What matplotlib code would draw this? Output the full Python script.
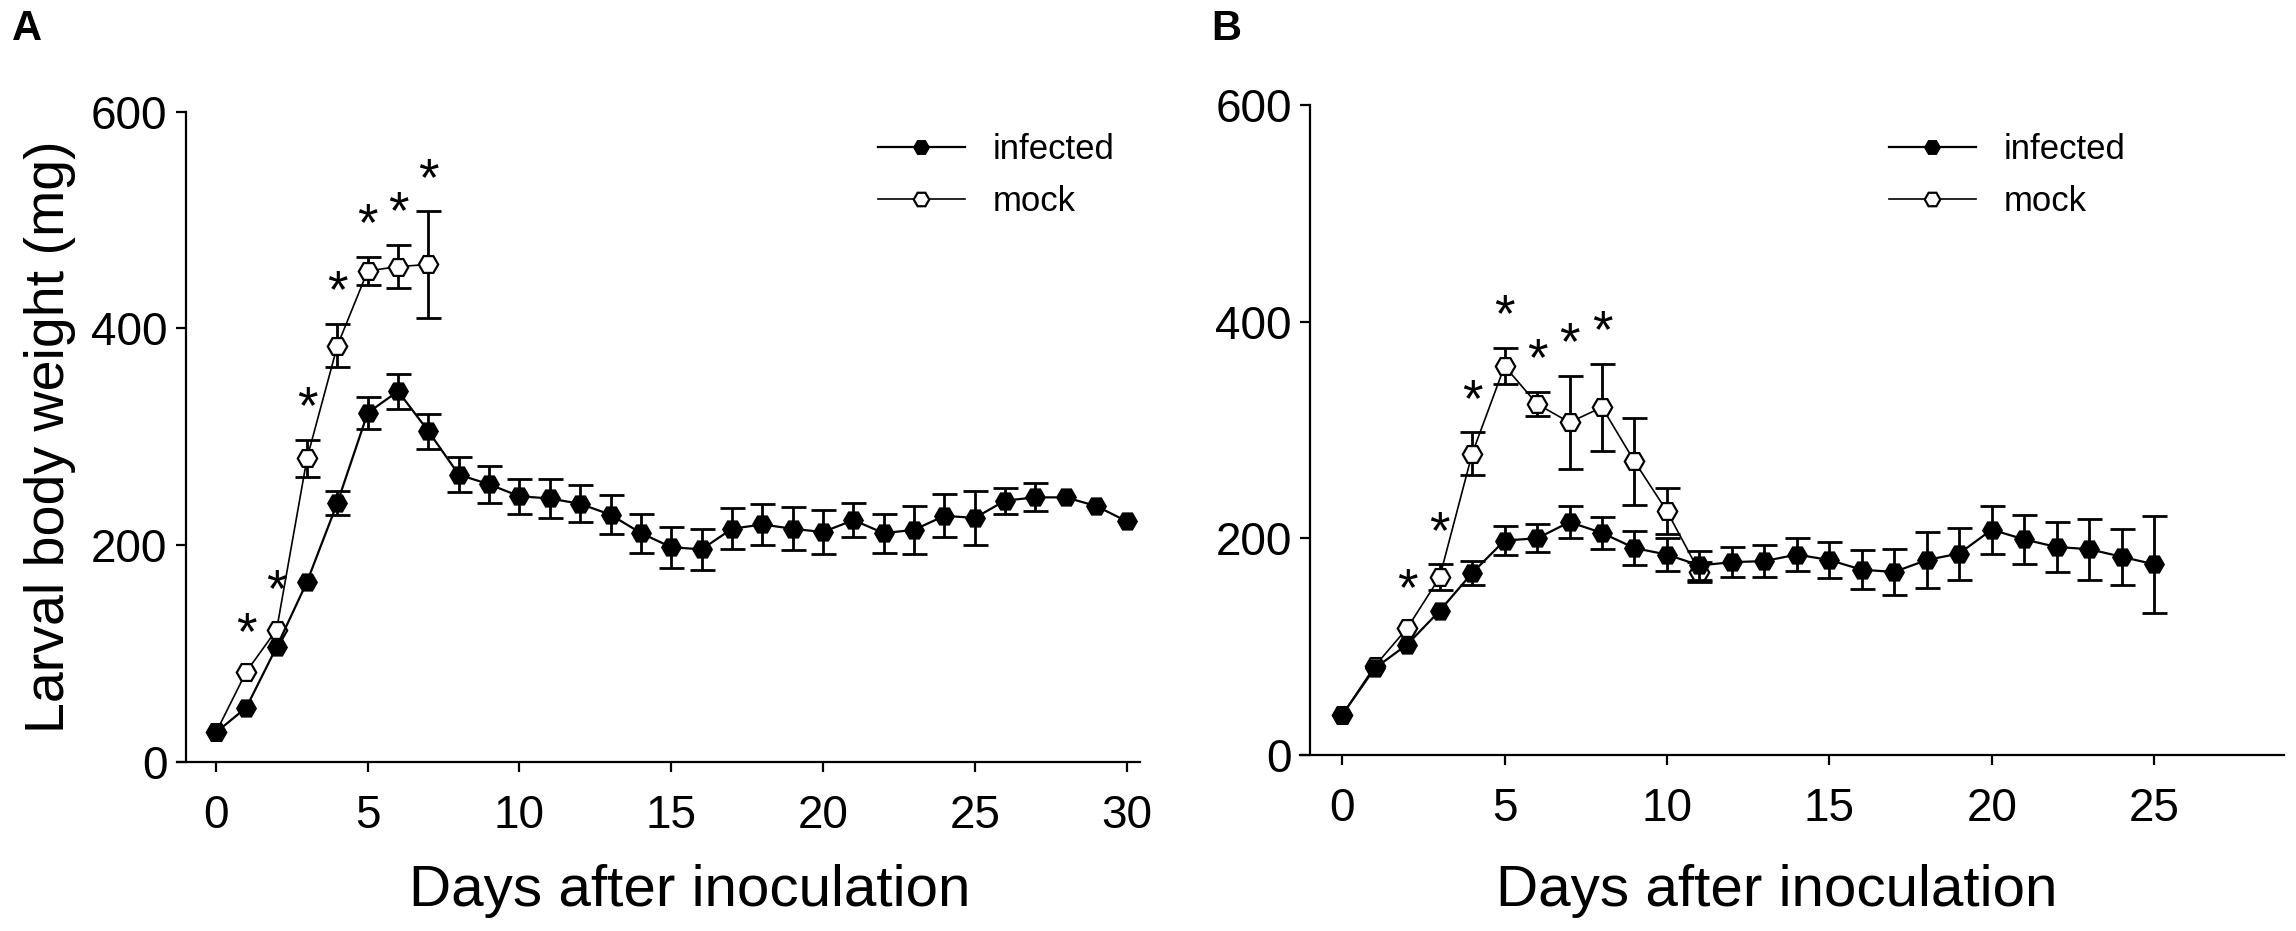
import matplotlib
matplotlib.use("Agg")
import matplotlib.pyplot as plt

plt.rcParams['font.family'] = ['Liberation Sans Narrow', 'Liberation Sans', 'DejaVu Sans']

# panel A  (error 0 = bar hidden behind the marker in the original)
days_a = list(range(0, 31))
inf_a = [27, 50, 106, 166, 239, 322, 342, 305, 265, 256, 245, 243, 238, 228, 211, 198,
         196, 215, 219, 215, 212, 223, 211, 214, 227, 225, 241, 244, 244, 236, 222]
inf_a_err = [0, 0, 0, 0, 11, 15, 16, 16, 16, 17, 16, 18, 17, 18, 18, 19,
             19, 19, 19, 20, 20, 16, 18, 22, 20, 25, 12, 13, 0, 0, 0]
mock_days_a = list(range(0, 8))
mock_a = [27, 83, 122, 280, 384, 453, 457, 459]
mock_a_err = [0, 0, 0, 17, 20, 13, 20, 49]
sig_a = [1, 2, 3, 4, 5, 6, 7]

# panel B
days_b = list(range(0, 26))
inf_b = [37, 80, 102, 133, 168, 198, 200, 215, 205, 191, 185, 175, 178, 179, 185, 180,
         171, 169, 180, 186, 208, 199, 192, 190, 183, 176]
inf_b_err = [0, 0, 0, 0, 11, 13.5, 13, 14.5, 15, 15.5, 15.5, 13, 14, 14.5, 15, 17,
             18, 21, 26, 24, 22, 23, 23, 28, 26, 45]
mock_days_b = list(range(0, 12))
mock_b = [37, 82, 117, 164, 278, 359, 324, 307, 321, 271, 225, 169]
mock_b_err = [0, 0, 0, 12, 20, 17, 11, 43, 40, 40, 21, 9]
sig_b = [2, 3, 4, 5, 6, 7, 8]

W, H = 2296, 931
fig = plt.figure(figsize=(W / 100, H / 100), dpi=100)


def bars(ax, x, y, e, z):
    keep = [i for i in range(len(x)) if e[i] > 0]
    ax.errorbar([x[i] for i in keep], [y[i] for i in keep], yerr=[e[i] for i in keep],
                fmt='none', ecolor='black', elinewidth=2, capsize=9, capthick=2,
                zorder=z, clip_on=False)


def panel(rect, xmax, xticks, days, inf, inf_err, mdays, mock, mock_err, sig,
          xlab_x, xlab_y, leg_xy, ylabel=True):
    ax = fig.add_axes(rect)
    bars(ax, mdays, mock, mock_err, 2)
    bars(ax, days, inf, inf_err, 4)
    l_mock, = ax.plot(mdays, mock, '-', color='black', lw=1.2, marker='H', ms=14,
                      mfc='white', mec='black', mew=1.6, zorder=3, clip_on=False)
    l_inf, = ax.plot(days, inf, '-', color='black', lw=1.6, marker='H', ms=14,
                     mfc='black', mec='black', zorder=5, clip_on=False)
    for d in sig:
        i = mdays.index(d)
        ax.annotate('*', (d, mock[i] + max(mock_err[i], 6)), xytext=(0, 4),
                    textcoords='offset points', ha='center', va='bottom', fontsize=38,
                    fontfamily='Liberation Sans')

    ax.set_xlim(-1.3, xmax)
    ax.set_ylim(0, 600)
    ax.set_xticks(xticks)
    ax.set_yticks([0, 200, 400, 600])
    for s in ['top', 'right']:
        ax.spines[s].set_visible(False)
    ax.spines['left'].set_position(('data', -1))
    ax.spines['left'].set_linewidth(1.6)
    ax.spines['bottom'].set_linewidth(1.6)
    ax.tick_params(axis='both', direction='out', length=7, width=1.6, labelsize=33)
    ax.tick_params(axis='x', pad=16)
    ax.tick_params(axis='y', pad=6)
    ax.set_xlabel('Days after inoculation', fontsize=42)
    ax.xaxis.set_label_coords(xlab_x, xlab_y)
    if ylabel:
        ax.set_ylabel('Larval body weight (mg)', fontsize=40)
        ax.yaxis.set_label_coords(-0.104, 0.5)
    ax.legend([l_inf, l_mock], ['infected', 'mock'], loc='upper left',
              bbox_to_anchor=leg_xy, bbox_transform=fig.transFigure, frameon=False,
              fontsize=25, handlelength=2.5, handletextpad=0.8, labelspacing=0.55,
              borderpad=0, borderaxespad=0, markerscale=0.8)
    return ax


panel([176.5 / W, 169.3 / H, 963.7 / W, 650 / H], 30.45, [0, 5, 10, 15, 20, 25, 30],
      days_a, inf_a, inf_a_err, mock_days_a, mock_a, mock_a_err, sig_a,
      0.532, -0.157, (878 / W, 1 - 133 / H))
panel([1300 / W, 176 / H, 984 / W, 650 / H], 29.0, [0, 5, 10, 15, 20, 25],
      days_b, inf_b, inf_b_err, mock_days_b, mock_b, mock_b_err, sig_b,
      0.484, -0.168, (1889 / W, 1 - 133 / H), ylabel=False)

fig.text(12 / W, 1 - 29 / H, 'A', fontsize=30, fontweight='bold', va='center', ha='left',
         fontfamily='Liberation Sans')
fig.text(1211 / W, 1 - 29 / H, 'B', fontsize=30, fontweight='bold', va='center', ha='left',
         fontfamily='Liberation Sans')

fig.savefig('out.png', dpi=100)
